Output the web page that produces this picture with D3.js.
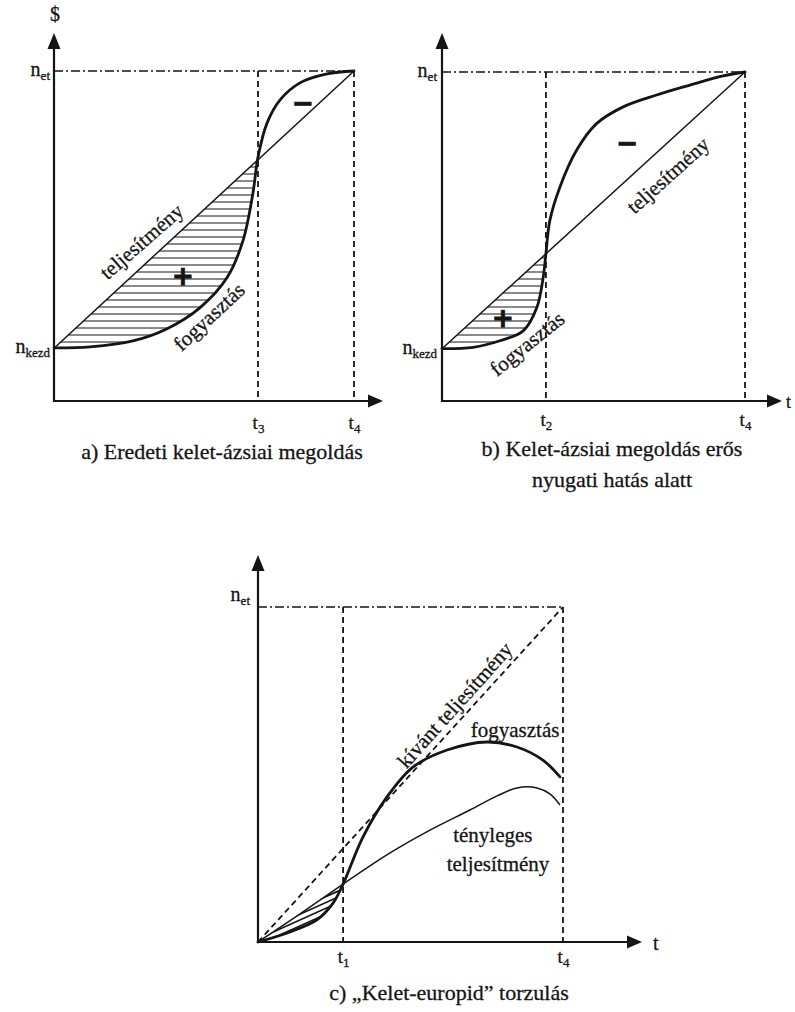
<!DOCTYPE html>
<html><head><meta charset="utf-8">
<script src="https://cdn.jsdelivr.net/npm/d3@7/dist/d3.min.js"></script>
<style>
body{margin:0;background:#fff}
svg text{fill:#151515}
</style>
</head><body>
<svg id="chart" width="795" height="1012"></svg>
<script>
// ---------------- DATA (x: time, t4 = 100; y: level, n_et = 100) ----------------
// Panel a) Eredeti kelet-ázsiai megoldás
const ticksA = [{x:68, sub:"3"}, {x:100, sub:"4"}];
const levelsA = [{y:100, sub:"et"}, {y:16, sub:"kezd"}];
const performanceA = [[0,16],[100,100]];
const consumptionA = [[0,16.1],[12,16.4],[26.3,18.2],[37.7,21.9],[48.7,28.3],[57.7,37.4],[63,48.6],[66.3,62.9],[68,73.9],[71,84.2],[75.3,91.2],[82,96.4],[91,99.1],[100,100]];
const captionA = ["a) Eredeti kelet-ázsiai megoldás"];
const notesA = [
  {text:"teljesítmény", x:29.2, y:48.3, angle:-41},
  {text:"fogyasztás", x:51.7, y:25.5, angle:-43},
  {text:"+", x:43, y:38, angle:0, sign:true},
  {text:"−", x:83, y:90.3, angle:0, sign:true}
];

// Panel b) Kelet-ázsiai megoldás erős nyugati hatás alatt
const ticksB = [{x:34.3, sub:"2"}, {x:100, sub:"4"}];
const levelsB = [{y:100, sub:"et"}, {y:15.9, sub:"kezd"}];
const performanceB = [[0,15.9],[100,100]];
const consumptionB = [[0,15.9],[10.3,16.3],[19.1,18.3],[26.8,21.3],[31.3,28.4],[33.4,37.6],[34.3,44.8],[35.6,54.9],[38.9,65],[44.4,76.2],[51,84.3],[59.8,89.4],[70.8,93],[81.8,96],[92.8,98.8],[100,100]];
const captionB = ["b) Kelet-ázsiai megoldás erős", "nyugati hatás alatt"];
const notesB = [
  {text:"teljesítmény", x:74.6, y:68.6, angle:-42},
  {text:"fogyasztás", x:28.1, y:17.4, angle:-39},
  {text:"+", x:20.1, y:25.3, angle:0, sign:true},
  {text:"−", x:61.1, y:78.4, angle:0, sign:true}
];

// Panel c) „Kelet-europid” torzulás
const ticksC = [{x:27.9, sub:"1"}, {x:100, sub:"4"}];
const levelsC = [{y:100, sub:"et"}];
const desiredC = [[0,0],[100,100]];
const performanceC = [[0,0],[13.8,8.4],[27.9,17.3],[43.3,26.6],[56.4,33.4],[69.5,39.4],[78.4,43.6],[84.9,46],[91.5,46],[95.7,44.2],[99,40.9]];
const consumptionC = [[0,0],[10.5,3],[19.3,6.6],[24.6,11.6],[27.9,17.3],[34.4,31.3],[42.3,43.3],[50.8,52.2],[62,57.3],[75.1,59.7],[84.9,58.2],[93.4,54.3],[99,49.3]];
const captionC = ["c) „Kelet-europid” torzulás"];
const notesC = [
  {text:"kívánt teljesítmény", x:64.6, y:70.7, angle:-48},
  {text:"fogyasztás", x:84.3, y:63.3, angle:0},
  {text:"tényleges", x:77, y:31.9, angle:0},
  {text:"teljesítmény", x:78.7, y:23.3, angle:0}
];

// ---------------- DRAWING ----------------
const svg = d3.select("#chart");
const INK = "#151515";
const SERIF = '"Liberation Serif","Times New Roman",serif';
const defs = svg.append("defs");

function samplePath(node, n){
  const L = node.getTotalLength();
  return d3.range(n+1).map(i => { const p = node.getPointAtLength(L*i/n); return [p.x, p.y]; });
}
function txt(sel){
  return sel.style("font-family", SERIF).attr("stroke", INK).attr("stroke-width", 0.3);
}

function drawPanel(cfg){
  const g = svg.append("g");
  const x = d3.scaleLinear().domain([0,100]).range(cfg.xr);
  const y = d3.scaleLinear().domain([0,100]).range(cfg.yr);
  const x0 = x(0), y0 = y(0);
  const curve = d3.line().x(d=>x(d[0])).y(d=>y(d[1])).curve(d3.curveCatmullRom.alpha(0.5));
  const straight = d3.line().x(d=>x(d[0])).y(d=>y(d[1]));
  const xc = x(cfg.ticks[0].x);

  const hatchG = g.append("g");
  const refG = g.append("g");
  const lineG = g.append("g");

  const perfPath = lineG.append("path").datum(cfg.performance)
    .attr("d", cfg.performance.length > 2 ? curve : straight)
    .attr("fill","none").attr("stroke",INK).attr("stroke-width",1.5);
  const consPath = lineG.append("path").datum(cfg.consumption)
    .attr("d", curve)
    .attr("fill","none").attr("stroke",INK).attr("stroke-width",2.8).attr("stroke-linecap","round");

  // hatch region between performance and consumption up to the crossing
  const cs = samplePath(consPath.node(), 400).filter(p => p[0] <= xc + 0.5);
  const ps = samplePath(perfPath.node(), 400).filter(p => p[0] <= xc + 0.5).reverse();
  const clipId = "clip" + cfg.id;
  defs.append("clipPath").attr("id", clipId).append("path")
    .attr("d", "M" + cs.concat(ps).map(p=>p.join(",")).join("L") + "Z");
  const hg = hatchG.append("g").attr("clip-path", `url(#${clipId})`)
    .attr("stroke", INK).attr("stroke-width", cfg.hatchWidth);
  if (cfg.hatch === "horizontal"){
    hg.selectAll("line").data(d3.range(y0 - 3, cfg.yr[1], -cfg.hatchGap)).join("line")
      .attr("x1", x0).attr("x2", xc).attr("y1", d=>d).attr("y2", d=>d);
  } else {
    hg.selectAll("line").data(d3.range(-200, 120, cfg.hatchGap)).join("line")
      .attr("x1", d=>x0 + d).attr("y1", y0 + 5)
      .attr("x2", d=>x0 + d + 200).attr("y2", y0 + 5 - 200*0.45);
  }

  if (cfg.desired){
    refG.append("path").datum(cfg.desired).attr("d", straight)
      .attr("fill","none").attr("stroke",INK).attr("stroke-width",1.8).attr("stroke-dasharray","6,4");
  }

  refG.append("line").attr("x1", x0).attr("x2", x(100)).attr("y1", y(100)).attr("y2", y(100))
    .attr("stroke",INK).attr("stroke-width",1.5).attr("stroke-dasharray","9,3,2,3");
  refG.selectAll(".vt").data(cfg.ticks).join("line").attr("class","vt")
    .attr("x1", d=>x(d.x)).attr("x2", d=>x(d.x)).attr("y1", y(100)).attr("y2", y0)
    .attr("stroke",INK).attr("stroke-width",1.8).attr("stroke-dasharray","6,4");

  g.append("line").attr("x1", x0).attr("y1", y0 + 1).attr("x2", x0).attr("y2", cfg.top + 8)
    .attr("stroke",INK).attr("stroke-width",2.2);
  g.append("line").attr("x1", x0 - 1).attr("y1", y0).attr("x2", cfg.right - 8).attr("y2", y0)
    .attr("stroke",INK).attr("stroke-width",2.2);
  g.append("path").attr("fill",INK)
    .attr("d", `M${x0},${cfg.top} L${x0-6.5},${cfg.top+16} L${x0+6.5},${cfg.top+16} Z`);
  g.append("path").attr("fill",INK)
    .attr("d", `M${cfg.right},${y0} L${cfg.right-15},${y0-6.5} L${cfg.right-15},${y0+6.5} Z`);

  const axis = d3.axisBottom(x).tickValues(cfg.ticks.map(d=>d.x)).tickSize(0).tickFormat("");
  const axg = g.append("g").attr("transform", `translate(0,${y0})`).call(axis)
    .attr("font-size", null).attr("font-family", null);
  axg.select(".domain").remove();
  axg.selectAll(".tick text").each(function(v, i){
    const t = txt(d3.select(this)).attr("y", cfg.tickDy).attr("dy", null)
      .attr("font-size", 19).attr("text-anchor","middle").attr("fill", INK);
    t.append("tspan").text("t");
    t.append("tspan").attr("dy", 4).attr("font-size", 13).text(cfg.ticks[i].sub);
  });

  cfg.levels.forEach(l => {
    const t = txt(g.append("text")).attr("x", x0 + cfg.levelDx).attr("y", y(l.y) + cfg.levelDy)
      .attr("text-anchor","end").attr("font-size", 20);
    t.append("tspan").text("n");
    t.append("tspan").attr("dy", 4).attr("font-size", 13).text(l.sub);
  });

  cfg.notes.forEach(n => {
    const t = g.append("text")
      .attr("transform", `translate(${x(n.x)},${y(n.y)}) rotate(${n.angle})`)
      .attr("text-anchor","middle").attr("dominant-baseline","central")
      .text(n.text);
    if (n.sign) t.style("font-family","DejaVu Sans").attr("font-size", 26).attr("font-weight","bold")
      .attr("stroke", INK).attr("stroke-width", 1);
    else txt(t).attr("font-size", 21);
  });

  cfg.caption.forEach((c, i) => {
    txt(g.append("text")).attr("x", cfg.capX).attr("y", cfg.capY + i*31)
      .attr("text-anchor","middle").attr("font-size", 22).text(c);
  });
  return {g, x, y};
}

const A = drawPanel({id:"a", xr:[54,354], yr:[401,71], top:33, right:383,
  ticks:ticksA, levels:levelsA, performance:performanceA, consumption:consumptionA,
  notes:notesA, caption:captionA, capX:222, capY:459, tickDy:28, levelDx:-4, levelDy:5,
  hatch:"horizontal", hatchGap:7, hatchWidth:1});
txt(A.g.append("text")).attr("x", 55).attr("y", 21).attr("text-anchor","middle").attr("font-size", 20).text("$");

const B = drawPanel({id:"b", xr:[442,745], yr:[401,72], top:33, right:782,
  ticks:ticksB, levels:levelsB, performance:performanceB, consumption:consumptionB,
  notes:notesB, caption:captionB, capX:612, capY:456, tickDy:25, levelDx:-5, levelDy:5,
  hatch:"horizontal", hatchGap:7, hatchWidth:1});
txt(B.g.append("text")).attr("x", 786).attr("y", 408).attr("font-size", 18).text("t");

const C = drawPanel({id:"c", xr:[258,563], yr:[942,607], top:555, right:642,
  ticks:ticksC, levels:levelsC, performance:performanceC, consumption:consumptionC, desired:desiredC,
  notes:notesC, caption:captionC, capX:449, capY:1000, tickDy:21, levelDx:-8, levelDy:-6,
  hatch:"diagonal", hatchGap:13, hatchWidth:1.6});
txt(C.g.append("text")).attr("x", 653).attr("y", 950).attr("font-size", 20).text("t");
</script>
</body></html>
